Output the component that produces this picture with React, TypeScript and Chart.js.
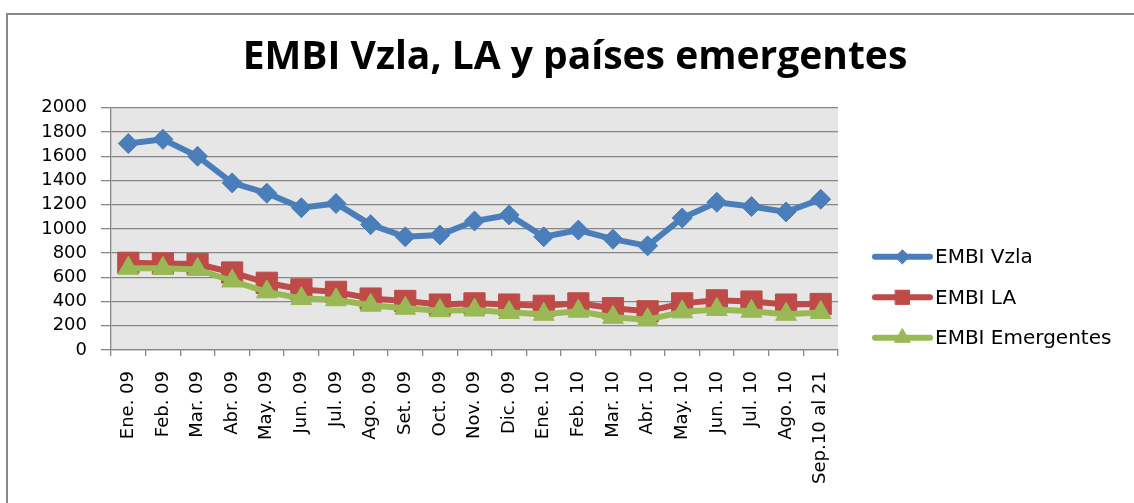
import React, { useEffect, useRef } from "react";
import { Chart, registerables } from "chart.js";
import { drawPoint } from "chart.js/helpers";

Chart.register(...registerables);

const titleText = "EMBI Vzla, LA y países emergentes";

const categories = [
  "Ene. 09", "Feb. 09", "Mar. 09", "Abr. 09", "May. 09", "Jun. 09", "Jul. 09",
  "Ago. 09", "Set. 09", "Oct. 09", "Nov. 09", "Dic. 09", "Ene. 10", "Feb. 10",
  "Mar. 10", "Abr. 10", "May. 10", "Jun. 10", "Jul. 10", "Ago. 10", "Sep.10 al 21",
];

const seriesNames = ["EMBI Vzla", "EMBI LA", "EMBI Emergentes"];

const embiVzla = [1705, 1740, 1600, 1380, 1295, 1175, 1210, 1035, 935, 950, 1065, 1115, 935, 990, 915, 860, 1090, 1220, 1185, 1140, 1245];
const embiLA = [720, 715, 710, 640, 555, 500, 480, 425, 405, 375, 385, 375, 365, 385, 345, 320, 385, 410, 400, 375, 380];
const embiEmergentes = [675, 675, 665, 570, 480, 425, 415, 370, 345, 325, 330, 310, 295, 320, 270, 250, 315, 335, 320, 295, 310];

const yMin = 0;
const yMax = 2000;
const yStep = 200;

const BLUE = "#4a7ebb";
const RED = "#be4b48";
const GREEN = "#98b954";
const GRID = "#878787";
const FONT = "'DejaVu Sans', sans-serif";

const plotBg = {
  id: "plotBg",
  beforeDraw(chart: any) {
    const { ctx, chartArea } = chart;
    ctx.save();
    ctx.fillStyle = "#e6e6e6";
    ctx.fillRect(chartArea.left, chartArea.top, chartArea.right - chartArea.left, chartArea.bottom - chartArea.top);
    ctx.restore();
  },
};

const legendMarkers = [
  { pointStyle: "rectRot", radius: 7 },
  { pointStyle: "rect", radius: 10 },
  { pointStyle: "triangle", radius: 9 },
];

const sideLegend = {
  id: "sideLegend",
  afterDraw(chart: any) {
    const { ctx, chartArea } = chart;
    const x0 = chartArea.right + 37;
    const yStart = chartArea.top + 149;
    const gap = 40.5;
    ctx.save();
    chart.data.datasets.forEach((ds: any, i: number) => {
      const y = yStart + i * gap;
      ctx.strokeStyle = ds.borderColor;
      ctx.fillStyle = ds.borderColor;
      ctx.lineWidth = 6;
      ctx.lineCap = "round";
      ctx.beginPath();
      ctx.moveTo(x0, y);
      ctx.lineTo(x0 + 55, y);
      ctx.stroke();
      ctx.lineWidth = 1;
      drawPoint(ctx, { pointStyle: legendMarkers[i].pointStyle, radius: legendMarkers[i].radius, rotation: 0, borderWidth: 1 } as any, x0 + 27.5, y);
      ctx.fillStyle = "#000";
      ctx.font = `20px ${FONT}`;
      ctx.textBaseline = "middle";
      ctx.textAlign = "left";
      ctx.fillText(ds.label, x0 + 60, y + 1);
    });
    ctx.restore();
  },
};

export default function App() {
  const canvasRef = useRef<HTMLCanvasElement | null>(null);

  useEffect(() => {
    if (!canvasRef.current) return;
    const chart = new Chart(canvasRef.current, {
      type: "line",
      data: {
        labels: categories,
        datasets: [
          {
            label: seriesNames[0],
            data: embiVzla,
            borderColor: BLUE,
            backgroundColor: BLUE,
            borderWidth: 6,
            pointStyle: "rectRot",
            pointRadius: 10,
            pointBorderWidth: 1,
            pointBorderColor: BLUE,
            pointBackgroundColor: BLUE,
            tension: 0,
            order: 2,
          },
          {
            label: seriesNames[1],
            data: embiLA,
            borderColor: RED,
            backgroundColor: RED,
            borderWidth: 6,
            pointStyle: "rect",
            pointRadius: 15,
            pointBorderWidth: 1,
            pointBorderColor: RED,
            pointBackgroundColor: RED,
            tension: 0,
            order: 1,
          },
          {
            label: seriesNames[2],
            data: embiEmergentes,
            borderColor: GREEN,
            backgroundColor: GREEN,
            borderWidth: 6,
            pointStyle: "triangle",
            pointRadius: 12,
            pointBorderWidth: 1,
            pointBorderColor: GREEN,
            pointBackgroundColor: GREEN,
            tension: 0,
            order: 0,
          },
        ],
      },
      options: {
        animation: false,
        responsive: false,
        maintainAspectRatio: false,
        layout: { padding: { left: 16, right: 0, top: 0, bottom: 3 } },
        plugins: {
          legend: { display: false },
          tooltip: { enabled: false },
          title: {
            display: true,
            text: titleText,
            color: "#000",
            font: { family: "'Open Sans', sans-serif", size: 39, weight: "bold" },
            padding: { top: 34, bottom: 27 },
          },
        },
        scales: {
          x: {
            type: "category",
            offset: true,
            afterFit(scale: any) {
              scale.height = 150;
            },
            grid: {
              display: true,
              drawOnChartArea: false,
              drawTicks: true,
              tickLength: 6,
              offset: true,
              color: GRID,
              lineWidth: 1.3,
            },
            border: { display: true, color: GRID, width: 1.3 },
            ticks: {
              autoSkip: false,
              minRotation: 90,
              maxRotation: 90,
              padding: 15,
              color: "#000",
              font: { family: FONT, size: 18 },
            },
          },
          y: {
            min: yMin,
            max: yMax,
            afterFit(scale: any) {
              scale.width = 95;
            },
            ticks: {
              stepSize: yStep,
              autoSkip: false,
              padding: 14,
              color: "#000",
              font: { family: FONT, size: 18 },
              callback: (v: any) => String(v),
            },
            grid: {
              color: GRID,
              lineWidth: 1.3,
              drawTicks: true,
              tickLength: 10,
            },
            border: { display: true, color: GRID, width: 1.3 },
          },
          legendSpace: {
            type: "linear",
            position: "right",
            display: true,
            afterFit(scale: any) {
              scale.width = 296;
            },
            grid: { display: false, drawTicks: false },
            border: { display: false },
            ticks: { display: false },
          },
        },
      },
      plugins: [plotBg, sideLegend],
    });
    return () => chart.destroy();
  }, []);

  return (
    <div style={{ position: "absolute", left: 0, top: 0, width: 1134, height: 503, overflow: "hidden", background: "#fff" }}>
      <div
        style={{
          position: "absolute",
          left: 6,
          top: 13,
          width: 1200,
          height: 600,
          borderLeft: "2px solid #878787",
          borderTop: "2px solid #878787",
        }}
      />
      <canvas ref={canvasRef} width={1134} height={503} style={{ position: "absolute", left: 0, top: 0, width: 1134, height: 503 }} />
    </div>
  );
}
